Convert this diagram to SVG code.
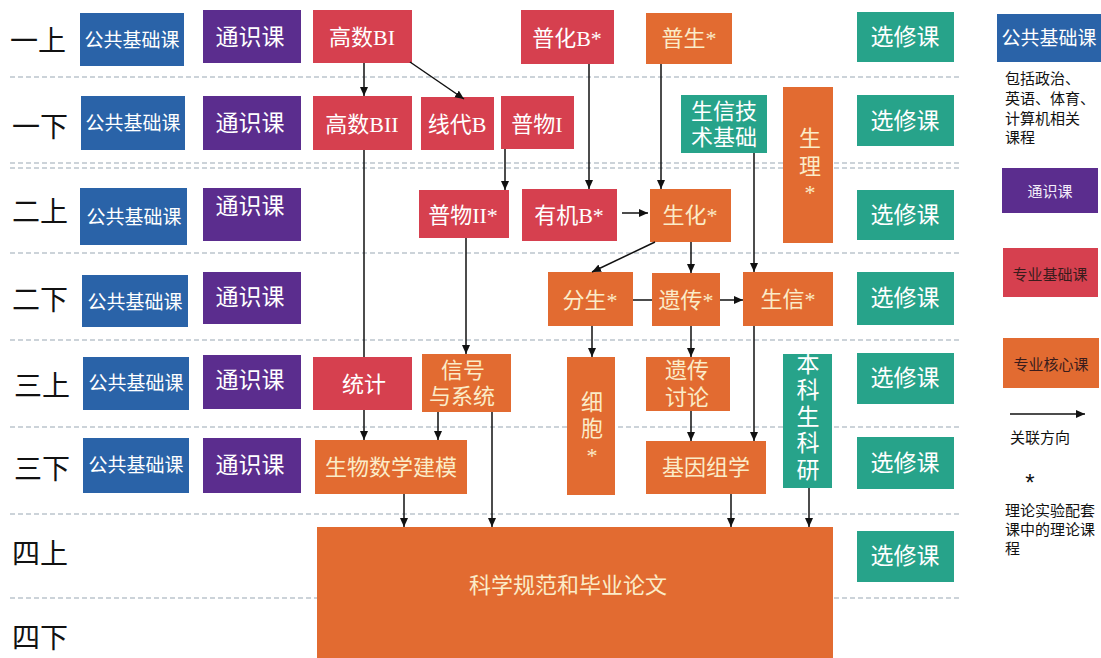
<svg xmlns="http://www.w3.org/2000/svg" width="1101" height="658" viewBox="0 0 1101 658">
<style>
.bg{fill:#ffffff}
.dash{stroke:#9aa7b4;stroke-width:1.2;stroke-dasharray:5 3;fill:none}
.blue{fill:#2a63a8}
.purple{fill:#5b2d8e}
.red{fill:#d6404f}
.orange{fill:#e26b31}
.teal{fill:#27a38a}
.row{font-family:"Noto Sans CJK SC",sans-serif;font-size:28px;fill:#111;dominant-baseline:central}
.t{font-family:"Liberation Serif","Noto Sans CJK SC",serif;font-size:22px;fill:#fff;text-anchor:middle;dominant-baseline:central}
.to{fill:#fbecc8}
.s19{font-size:19px}
.s23{font-size:23px}
.lg{font-family:"Noto Sans CJK SC",sans-serif;font-size:15px;fill:#111;dominant-baseline:central}
.lgc{font-family:"Noto Sans CJK SC",sans-serif;font-size:15px;text-anchor:middle;dominant-baseline:central}
.star{font-family:"Liberation Sans",sans-serif;font-size:24px;fill:#111;text-anchor:middle}
.conn line{stroke:#111;stroke-width:1.5}
</style>
<defs>
<marker id="ah" markerUnits="userSpaceOnUse" markerWidth="10" markerHeight="10" refX="9" refY="4" orient="auto">
<path d="M0,0 L9,4 L0,8 z" fill="#111"/>
</marker>
</defs>
<rect class="bg" x="0" y="0" width="1101" height="658"/>

<g id="grid">
<line class="dash" x1="10" y1="77" x2="962" y2="77"/>
<line class="dash" x1="10" y1="163" x2="962" y2="163"/>
<line class="dash" x1="10" y1="168" x2="962" y2="168"/>
<line class="dash" x1="10" y1="253" x2="962" y2="253"/>
<line class="dash" x1="10" y1="340" x2="962" y2="340"/>
<line class="dash" x1="10" y1="427" x2="962" y2="427"/>
<line class="dash" x1="10" y1="514" x2="962" y2="514"/>
<line class="dash" x1="10" y1="598" x2="962" y2="598"/>
</g>

<g id="row-labels">
<text class="row" x="10" y="39">一上</text>
<text class="row" x="12" y="125">一下</text>
<text class="row" x="12" y="210">二上</text>
<text class="row" x="12" y="298">二下</text>
<text class="row" x="14" y="384">三上</text>
<text class="row" x="14" y="467">三下</text>
<text class="row" x="12" y="552">四上</text>
<text class="row" x="12" y="636">四下</text>
</g>

<g id="pub1"><rect class="blue" x="80" y="13" width="104" height="53"/><text class="t s19" x="132" y="40">公共基础课</text></g>
<g id="pub2"><rect class="blue" x="81" y="96" width="104" height="54"/><text class="t s19" x="133" y="123">公共基础课</text></g>
<g id="pub3"><rect class="blue" x="80" y="188" width="107" height="57"/><text class="t s19" x="134" y="217">公共基础课</text></g>
<g id="pub4"><rect class="blue" x="82" y="275" width="106" height="52"/><text class="t s19" x="135" y="302">公共基础课</text></g>
<g id="pub5"><rect class="blue" x="83" y="357" width="106" height="53"/><text class="t s19" x="136" y="383">公共基础课</text></g>
<g id="pub6"><rect class="blue" x="83" y="438" width="106" height="55"/><text class="t s19" x="136" y="465">公共基础课</text></g>

<g id="gen1"><rect class="purple" x="203" y="10" width="98" height="53"/><text class="t s23" x="250" y="37">通识课</text></g>
<g id="gen2"><rect class="purple" x="203" y="96" width="98" height="54"/><text class="t s23" x="250" y="123">通识课</text></g>
<g id="gen3"><rect class="purple" x="203" y="188" width="98" height="53"/><text class="t s23" x="250" y="206">通识课</text></g>
<g id="gen4"><rect class="purple" x="203" y="272" width="98" height="52"/><text class="t s23" x="250" y="297">通识课</text></g>
<g id="gen5"><rect class="purple" x="203" y="355" width="98" height="54"/><text class="t s23" x="250" y="380">通识课</text></g>
<g id="gen6"><rect class="purple" x="203" y="438" width="98" height="55"/><text class="t s23" x="250" y="465">通识课</text></g>

<g id="elec1"><rect class="teal" x="857" y="12" width="97" height="50"/><text class="t s23" x="905" y="37">选修课</text></g>
<g id="elec2"><rect class="teal" x="857" y="95" width="97" height="51"/><text class="t s23" x="905" y="121">选修课</text></g>
<g id="elec3"><rect class="teal" x="857" y="190" width="97" height="50"/><text class="t s23" x="905" y="215">选修课</text></g>
<g id="elec4"><rect class="teal" x="857" y="272" width="97" height="53"/><text class="t s23" x="905" y="298">选修课</text></g>
<g id="elec5"><rect class="teal" x="857" y="353" width="97" height="51"/><text class="t s23" x="905" y="378">选修课</text></g>
<g id="elec6"><rect class="teal" x="857" y="437" width="97" height="52"/><text class="t s23" x="905" y="463">选修课</text></g>
<g id="elec7"><rect class="teal" x="857" y="531" width="97" height="51"/><text class="t s23" x="905" y="556">选修课</text></g>

<g id="gaoshuBI"><rect class="red" x="313" y="10" width="99" height="53"/><text class="t" x="362" y="37">高数BI</text></g>
<g id="gaoshuBII"><rect class="red" x="313" y="96" width="99" height="54"/><text class="t" x="362" y="124">高数BII</text></g>
<g id="xiandaiB"><rect class="red" x="421" y="97" width="73" height="53"/><text class="t" x="457" y="124">线代B</text></g>
<g id="puwuI"><rect class="red" x="501" y="96" width="73" height="53"/><text class="t" x="537" y="124">普物I</text></g>
<g id="puhuaB"><rect class="red" x="521" y="10" width="93" height="54"/><text class="t" x="567" y="38">普化B*</text></g>
<g id="pusheng"><rect class="orange" x="646" y="13" width="86" height="51"/><text class="t to" x="689" y="38">普生*</text></g>
<g id="shengxinjishu"><rect class="teal" x="681" y="95" width="86" height="58"/><text class="t" x="724" y="111">生信技</text><text class="t" x="724" y="137">术基础</text></g>
<g id="shengli"><rect class="orange" x="783" y="87" width="50" height="156"/><text class="t to" x="810" y="138">生</text><text class="t to" x="810" y="166">理</text><text class="t to" x="810" y="192">*</text></g>
<g id="puwuII"><rect class="red" x="419" y="190" width="90" height="48"/><text class="t" x="463" y="215">普物II*</text></g>
<g id="youjiB"><rect class="red" x="522" y="189" width="95" height="52"/><text class="t" x="569" y="215">有机B*</text></g>
<g id="shenghua"><rect class="orange" x="650" y="189" width="81" height="53"/><text class="t to" x="690" y="215">生化*</text></g>
<g id="fensheng"><rect class="orange" x="548" y="272" width="85" height="54"/><text class="t to" x="590" y="300">分生*</text></g>
<g id="yichuan"><rect class="orange" x="652" y="273" width="68" height="53"/><text class="t to" x="686" y="300">遗传*</text></g>
<g id="shengxin"><rect class="orange" x="743" y="272" width="90" height="54"/><text class="t to" x="788" y="299">生信*</text></g>
<g id="tongji"><rect class="red" x="313" y="357" width="99" height="53"/><text class="t" x="364" y="384">统计</text></g>
<g id="xinhao"><rect class="orange" x="422" y="354" width="89" height="58"/><text class="t to" x="463" y="370">信号</text><text class="t to" x="462" y="396">与系统</text></g>
<g id="xibao"><rect class="orange" x="567" y="357" width="48" height="138"/><text class="t to" x="592" y="402">细</text><text class="t to" x="592" y="428">胞</text><text class="t to" x="592" y="455">*</text></g>
<g id="yichuantaolun"><rect class="orange" x="646" y="357" width="84" height="54"/><text class="t to" x="687" y="370">遗传</text><text class="t to" x="687" y="397">讨论</text></g>
<g id="benkeshengkeyan"><rect class="teal" x="783" y="354" width="49" height="134"/><text class="t s23" x="808" y="364">本</text><text class="t s23" x="808" y="390">科</text><text class="t s23" x="808" y="417">生</text><text class="t s23" x="808" y="443">科</text><text class="t s23" x="808" y="470">研</text></g>
<g id="shengwushuxue"><rect class="orange" x="315" y="440" width="152" height="54"/><text class="t to" x="391" y="467">生物数学建模</text></g>
<g id="jiyinzuxue"><rect class="orange" x="646" y="441" width="120" height="53"/><text class="t to" x="706" y="467">基因组学</text></g>
<g id="kexueguifan"><rect class="orange" x="317" y="527" width="516" height="131"/><text class="t to" x="568" y="585">科学规范和毕业论文</text></g>

<g id="connectors" class="conn">
<line x1="364" y1="63" x2="364" y2="96" marker-end="url(#ah)"/>
<line x1="410" y1="62" x2="464" y2="99" marker-end="url(#ah)"/>
<line x1="505" y1="149" x2="505" y2="190" marker-end="url(#ah)"/>
<line x1="589" y1="64" x2="589" y2="189" marker-end="url(#ah)"/>
<line x1="661" y1="64" x2="661" y2="189" marker-end="url(#ah)"/>
<line x1="622" y1="213" x2="648" y2="213" marker-end="url(#ah)"/>
<line x1="364" y1="150" x2="364" y2="357"/>
<line x1="466" y1="238" x2="466" y2="354" marker-end="url(#ah)"/>
<line x1="655" y1="242" x2="592" y2="272" marker-end="url(#ah)"/>
<line x1="691" y1="242" x2="691" y2="273" marker-end="url(#ah)"/>
<line x1="754" y1="153" x2="754" y2="272" marker-end="url(#ah)"/>
<line x1="633" y1="300" x2="652" y2="300"/>
<line x1="720" y1="300" x2="743" y2="300" marker-end="url(#ah)"/>
<line x1="592" y1="326" x2="592" y2="357" marker-end="url(#ah)"/>
<line x1="691" y1="326" x2="691" y2="357" marker-end="url(#ah)"/>
<line x1="754" y1="326" x2="754" y2="441" marker-end="url(#ah)"/>
<line x1="691" y1="411" x2="691" y2="441" marker-end="url(#ah)"/>
<line x1="364" y1="410" x2="364" y2="440" marker-end="url(#ah)"/>
<line x1="438" y1="412" x2="438" y2="440" marker-end="url(#ah)"/>
<line x1="492" y1="412" x2="492" y2="527" marker-end="url(#ah)"/>
<line x1="404" y1="494" x2="404" y2="527" marker-end="url(#ah)"/>
<line x1="731" y1="494" x2="731" y2="527" marker-end="url(#ah)"/>
<line x1="809" y1="488" x2="809" y2="527" marker-end="url(#ah)"/>
</g>

<g id="legend-pub"><rect class="blue" x="997" y="14" width="104" height="48"/><text class="t s19" x="1049" y="38">公共基础课</text>
<text class="lg" x="1005" y="77">包括政治、</text>
<text class="lg" x="1005" y="97">英语、体育、</text>
<text class="lg" x="1005" y="117">计算机相关</text>
<text class="lg" x="1005" y="136">课程</text></g>
<g id="legend-gen"><rect class="purple" x="1002" y="168" width="96" height="45"/><text class="lgc" x="1050" y="190" fill="#f3eefa">通识课</text></g>
<g id="legend-red"><rect class="red" x="1003" y="248" width="95" height="49"/><text class="lgc" x="1050" y="273" fill="#3a1c1c">专业基础课</text></g>
<g id="legend-orange"><rect class="orange" x="1003" y="338" width="96" height="50"/><text class="lgc" x="1051" y="363" fill="#3a1c1c">专业核心课</text></g>
<g id="legend-arrow"><line x1="1010" y1="414" x2="1085" y2="414" stroke="#111" stroke-width="1.5" marker-end="url(#ah)"/><text class="lg" x="1010" y="436">关联方向</text></g>
<g id="legend-star"><text class="star" x="1030" y="491">*</text>
<text class="lg" x="1005" y="509">理论实验配套</text>
<text class="lg" x="1005" y="528">课中的理论课</text>
<text class="lg" x="1005" y="547">程</text></g>
</svg>
